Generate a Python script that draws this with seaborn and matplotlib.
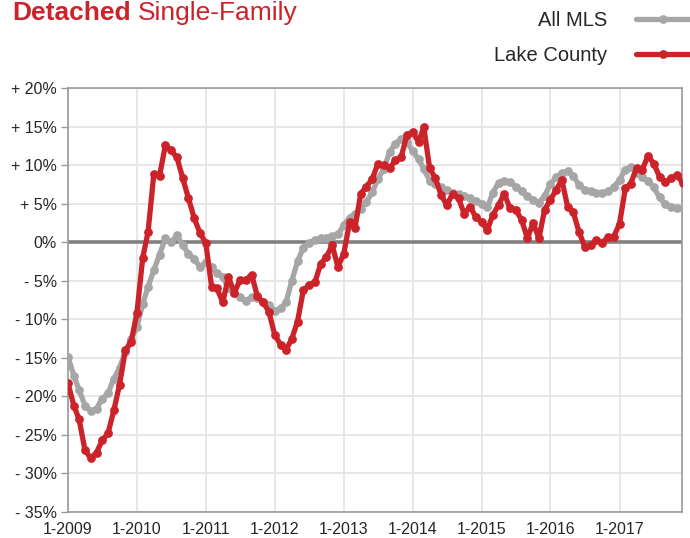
import pandas as pd
import matplotlib
matplotlib.use("Agg")
import matplotlib.pyplot as plt
from matplotlib.lines import Line2D
import seaborn as sns

# Monthly year-over-year change (%), Jan 2009 - Dec 2017
months = pd.date_range("2009-01-01", "2017-12-01", freq="MS")

all_mls = [
    -14.9, -17.3, -19.2, -21.2, -21.9, -21.6, -20.3, -19.6, -17.7, -16.3, -14.2, -12.6,  # 2009
    -11.0, -8.0, -5.8, -3.6, -1.6, 0.5, 0.0, 0.9, -0.4, -1.5, -2.2, -3.2,  # 2010
    -2.6, -3.2, -4.0, -4.5, -6.0, -6.6, -7.1, -7.6, -7.1, -7.3, -7.8, -8.2,  # 2011
    -8.9, -8.6, -7.8, -5.0, -2.5, -0.7, -0.1, 0.3, 0.5, 0.6, 0.8, 1.0,  # 2012
    2.2, 3.2, 3.7, 4.3, 5.2, 6.5, 8.2, 9.5, 11.7, 12.8, 13.4, 13.0,  # 2013
    11.8, 10.8, 9.5, 8.0, 7.6, 7.1, 6.8, 6.4, 6.2, 6.0, 5.7, 5.3,  # 2014
    5.0, 4.5, 6.4, 7.7, 8.0, 7.8, 7.2, 6.6, 6.0, 5.5, 5.1, 6.0,  # 2015
    7.6, 8.4, 9.0, 9.2, 8.6, 7.4, 6.8, 6.6, 6.4, 6.4, 6.6, 7.1,  # 2016
    8.1, 9.4, 9.8, 9.0, 8.4, 8.0, 7.1, 5.8, 4.9, 4.5, 4.4, 4.4,  # 2017
]

lake_county = [
    -18.3, -21.2, -23.0, -27.0, -28.0, -27.3, -25.7, -24.8, -21.8, -18.5, -14.0, -13.0,  # 2009
    -9.2, -2.0, 1.3, 8.9, 8.6, 12.6, 11.9, 11.0, 8.3, 5.7, 3.1, 1.2,  # 2010
    -0.1, -5.8, -6.0, -7.8, -4.5, -6.6, -4.9, -4.9, -4.2, -7.0, -7.8, -9.0,  # 2011
    -12.0, -13.3, -14.0, -12.5, -10.3, -6.2, -5.6, -5.2, -2.8, -1.9, -0.4, -3.2,  # 2012
    -1.5, 2.6, 1.8, 6.3, 7.2, 8.2, 10.2, 10.0, 9.6, 10.6, 11.0, 13.9,  # 2013
    14.3, 13.0, 14.9, 9.6, 8.3, 6.1, 4.8, 6.3, 5.7, 3.7, 4.6, 3.3,  # 2014
    2.6, 1.6, 3.5, 4.8, 6.3, 4.4, 4.2, 2.9, 0.5, 2.5, 0.5, 4.2,  # 2015
    5.5, 6.8, 8.1, 4.6, 3.9, 1.3, -0.6, -0.4, 0.3, -0.1, 0.7, 0.7,  # 2016
    2.4, 7.0, 7.6, 9.6, 9.4, 11.2, 10.2, 8.5, 7.8, 8.3, 8.7, 7.7,  # 2017
]

series_names = ["All MLS", "Lake County"]
colors = {"All MLS": "#a6a6a6", "Lake County": "#cc2229"}

y_ticks = [20, 15, 10, 5, 0, -5, -10, -15, -20, -25, -30, -35]
y_labels = ["+ 20%", "+ 15%", "+ 10%", "+ 5%", "0%", "- 5%", "- 10%", "- 15%",
            "- 20%", "- 25%", "- 30%", "- 35%"]
x_ticks = pd.date_range("2009-01-01", "2017-01-01", freq="YS")
x_labels = [f"1-{d.year}" for d in x_ticks]

df = pd.DataFrame({
    "Month": list(months) * 2,
    "Change": all_mls + lake_county,
    "Series": ["All MLS"] * len(months) + ["Lake County"] * len(months),
})

sns.set_theme(style="white")
plt.rcParams["font.family"] = ["Liberation Sans", "DejaVu Sans"]

fig = plt.figure(figsize=(6.9, 5.38), dpi=100)
ax = fig.add_axes([68 / 690, 1 - 512 / 538, 614 / 690, 424 / 538])

sns.lineplot(data=df, x="Month", y="Change", hue="Series", hue_order=series_names,
             palette=colors, marker="o", markersize=6.3, markeredgewidth=0,
             linewidth=3.8, legend=False, ax=ax, zorder=3)

ax.axhline(0, color="#808080", linewidth=2.6, zorder=2)

ax.set_ylim(-35, 20)
ax.set_xlim(months[0], pd.Timestamp("2017-11-28"))
ax.set_yticks(y_ticks)
ax.set_yticklabels(y_labels, fontsize=11.5)
ax.set_xticks(x_ticks)
ax.set_xticklabels(x_labels, fontsize=11.5)
ax.set_xlabel("")
ax.set_ylabel("")

ax.grid(True, color="#e3e3e3", linewidth=1.2, zorder=0)
for side in ["left", "bottom", "top", "right"]:
    ax.spines[side].set_color("#999999")
    ax.spines[side].set_linewidth(1.2)
ax.tick_params(axis="y", length=5, width=1, color="#999999", pad=3, left=True)
ax.tick_params(axis="x", length=0, pad=7)

# Legend at top right, text before the line sample
handles = [Line2D([], [], color=colors[n], linewidth=3.8, marker="o",
                  markersize=6.3, markeredgewidth=0) for n in series_names]
fig.legend(handles, series_names, loc="upper right", bbox_to_anchor=(1.0, 1 - 11 / 538),
           markerfirst=False, frameon=False, fontsize=14.5, handlelength=2.7,
           labelspacing=0.8, handletextpad=1.4, borderpad=0, borderaxespad=0)

# Title at the top-left
t1 = fig.text(12 / 690, 1 - 20 / 538, "Detached", color="#cc2229", fontsize=19,
              fontweight="bold", va="baseline")
fig.canvas.draw()
bb = t1.get_window_extent()
fig.text((bb.x1 + 7) / 690, 1 - 20 / 538, "Single-Family", color="#cc2229",
         fontsize=19, va="baseline")

fig.savefig("out.png", dpi=100)
plt.close(fig)
